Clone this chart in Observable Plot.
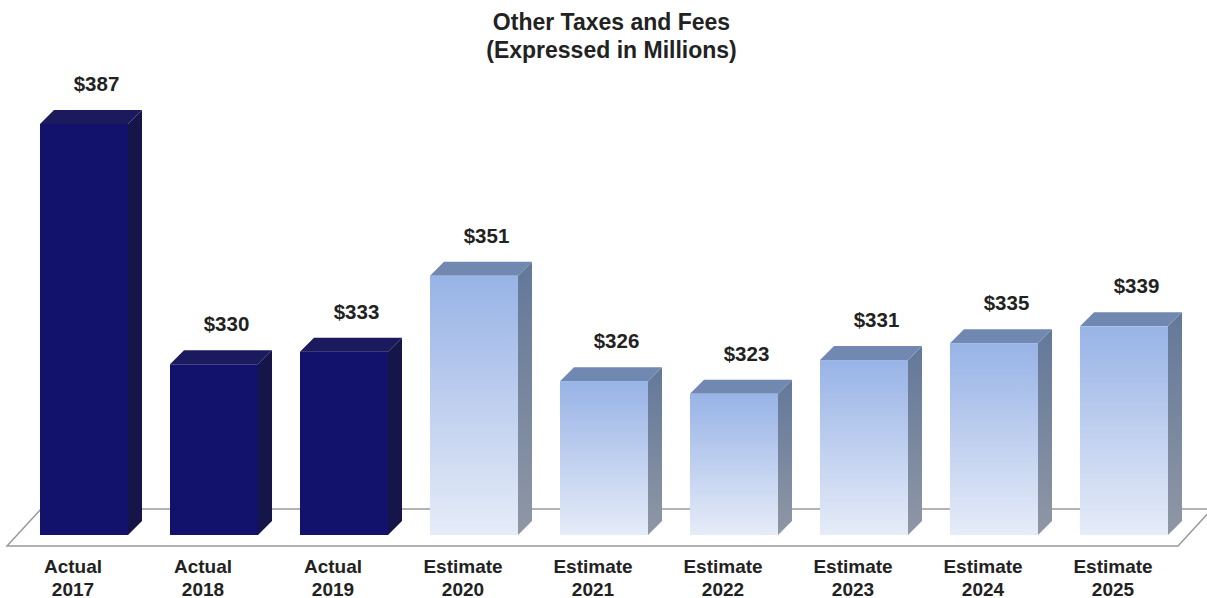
<!DOCTYPE html>
<html>
<head>
<meta charset="utf-8">
<script src="https://cdn.jsdelivr.net/npm/d3@7"></script>
<script src="https://cdn.jsdelivr.net/npm/@observablehq/plot@0.6"></script>
<style>
  html, body { margin: 0; padding: 0; background: #fff; }
  #title { font: 700 23px "Liberation Sans", Arial, sans-serif; line-height: 28px; color: #222;
           text-align: center; padding-top: 8px; padding-left: 16px; height: 56px; }
</style>
</head>
<body>
<div id="title">Other Taxes and Fees<br>(Expressed in Millions)</div>
<div id="chart"></div>
<script>
const kinds = ["Actual", "Actual", "Actual", "Estimate", "Estimate", "Estimate", "Estimate", "Estimate", "Estimate"];
const years = [2017, 2018, 2019, 2020, 2021, 2022, 2023, 2024, 2025];
const values = [387, 330, 333, 351, 326, 323, 331, 335, 339];

const data = years.map((yr, i) => ({cat: kinds[i] + "\n" + yr, kind: kinds[i], year: yr, value: values[i]}));
const cats = data.map(d => d.cat);
const yBase = 289.5;
const depth = 14;

function floorAndDepth(index, scales) {
  const x = scales.x, y = scales.y;
  const bw = x.bandwidth ? x.bandwidth() : 88;
  const ns = "http://www.w3.org/2000/svg";
  const g = document.createElementNS(ns, "g");
  g.innerHTML = `
    <defs>
      <linearGradient id="gEst" x1="0" y1="0" x2="0" y2="1">
        <stop offset="0" stop-color="#98b3e6"/><stop offset="1" stop-color="#e6ecf8"/>
      </linearGradient>
      <linearGradient id="gEstSide" x1="0" y1="0" x2="0" y2="1">
        <stop offset="0" stop-color="#637899"/><stop offset="1" stop-color="#8f97a5"/>
      </linearGradient>
    </defs>`;
  const b = y(yBase);
  const x0 = x(cats[0]), x1 = x(cats[cats.length - 1]) + bw;
  const floor = document.createElementNS(ns, "polygon");
  floor.setAttribute("points", `${x0 - 33},${b + 11} ${x0 + 1},${b - 26} ${x1 + 44},${b - 26} ${x1 + 10},${b + 11}`);
  floor.setAttribute("fill", "#fff");
  floor.setAttribute("stroke", "#9a9a9a");
  floor.setAttribute("stroke-width", "1.5");
  g.appendChild(floor);
  for (const d of data) {
    const xl = x(d.cat), xr = xl + bw, yt = y(d.value);
    const est = d.kind === "Estimate";
    const side = document.createElementNS(ns, "polygon");
    side.setAttribute("points", `${xr},${yt} ${xr + depth},${yt - depth} ${xr + depth},${b - depth} ${xr},${b}`);
    side.setAttribute("fill", est ? "url(#gEstSide)" : "#15154a");
    g.appendChild(side);
    const top = document.createElementNS(ns, "polygon");
    top.setAttribute("points", `${xl},${yt} ${xl + depth},${yt - depth} ${xr + depth},${yt - depth} ${xr},${yt}`);
    top.setAttribute("fill", est ? "#7189b1" : "#1a1a5c");
    g.appendChild(top);
  }
  return g;
}

const font = '"Liberation Sans", Arial, sans-serif';
const chart = Plot.plot({
  width: 1207,
  height: 534,
  margin: 0,
  style: {fontFamily: font, background: "#fff", color: "#222"},
  x: {type: "band", domain: cats, range: [40, 1168], paddingInner: 0.323, paddingOuter: 0, round: false, axis: null},
  y: {domain: [yBase, 387], range: [471, 60], axis: null},
  marks: [
    floorAndDepth,
    Plot.barY(data.filter(d => d.kind === "Actual"), {x: "cat", y1: () => yBase, y2: "value", fill: "#12126c"}),
    Plot.barY(data.filter(d => d.kind === "Estimate"), {x: "cat", y1: () => yBase, y2: "value", fill: "url(#gEst)"}),
    Plot.text(data, {x: "cat", y: "value", text: d => "$" + d.value, dy: -40, dx: 12,
      fontSize: 20.5, fontWeight: "bold", fill: "#222"}),
    Plot.text(data, {x: "cat", text: "cat", frameAnchor: "bottom", lineAnchor: "bottom", dy: -3, dx: -11.5,
      fontSize: 19, fontWeight: "bold", lineHeight: 1.17, fill: "#222"})
  ]
});
document.getElementById("chart").appendChild(chart);
</script>
</body>
</html>
